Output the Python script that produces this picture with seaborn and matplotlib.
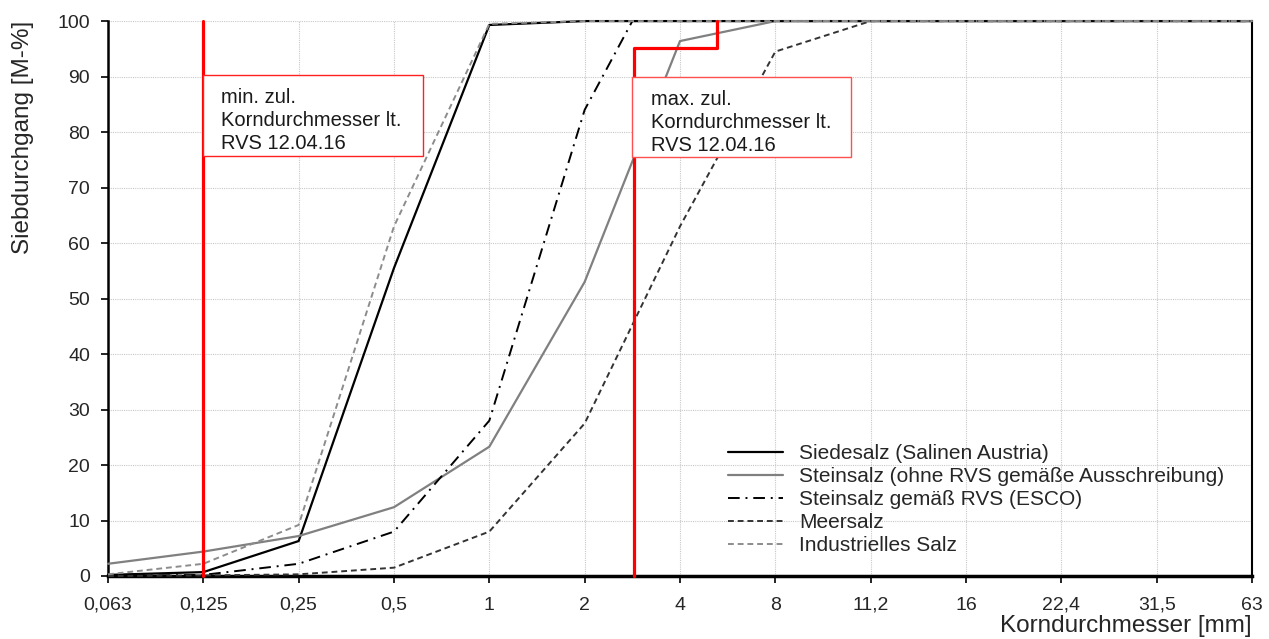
import numpy as np
import matplotlib
matplotlib.use("Agg")
import matplotlib.pyplot as plt
from matplotlib.patches import Rectangle
import seaborn as sns
import pandas as pd

# Sieve sizes (categorical, evenly spaced on the axis)
sizes = ["0,063", "0,125", "0,25", "0,5", "1", "2", "4", "8", "11,2", "16", "22,4", "31,5", "63"]

# Passing fractions [M-%] per sieve size
siedesalz = [0.2, 0.7, 6.3, 55.5, 99.3, 100, 100, 100, 100, 100, 100, 100, 100]
steinsalz_ohne = [2.2, 4.4, 7.2, 12.4, 23.3, 53.0, 96.4, 100, 100, 100, 100, 100, 100]
meersalz = [0.0, 0.1, 0.3, 1.5, 8.0, 27.5, 63.0, 94.5, 100, 100, 100, 100, 100]
industriell = [0.3, 2.2, 9.2, 63.0, 99.5, 100, 100, 100, 100, 100, 100, 100, 100]

# ESCO rock salt reaches 100 % between the 2 mm and 4 mm sieves
esco_pos = [0, 1, 2, 3, 4, 5, 5.5, 6, 7, 8, 9, 10, 11, 12]
esco = [0.0, 0.2, 2.2, 8.0, 28.0, 84.0, 100, 100, 100, 100, 100, 100, 100, 100]

# Permitted grain size limits (RVS 12.04.16)
min_limit_x = [1, 1]
min_limit_y = [0, 100]
max_limit_x = [5.52, 5.52, 6.39, 6.39]
max_limit_y = [0, 95.2, 95.2, 100]

labels = [
    "Siedesalz (Salinen Austria)",
    "Steinsalz (ohne RVS gemäße Ausschreibung)",
    "Steinsalz gemäß RVS (ESCO)",
    "Meersalz",
    "Industrielles Salz",
]

sns.set_theme(style="white")
plt.rcParams["font.family"] = ["Liberation Sans", "DejaVu Sans"]

fig = plt.figure(figsize=(12.69, 6.39), dpi=100)
ax = fig.add_axes([0.0851, 0.0986, 0.9015, 0.8684])

pos = np.arange(len(sizes))
series = [
    (pos, siedesalz, labels[0], dict(color="black", linestyle="-", linewidth=1.6)),
    (pos, steinsalz_ohne, labels[1], dict(color="#808080", linestyle="-", linewidth=1.6)),
    (np.array(esco_pos), esco, labels[2], dict(color="black", linestyle=(0, (6, 3, 1, 3)), linewidth=1.4)),
    (pos, meersalz, labels[3], dict(color="#333333", linestyle=(0, (3, 2)), linewidth=1.4)),
    (pos, industriell, labels[4], dict(color="#8c8c8c", linestyle=(0, (3, 2)), linewidth=1.4)),
]
for x, y, lab, kw in series:
    df = pd.DataFrame({"x": x, "y": y})
    sns.lineplot(data=df, x="x", y="y", ax=ax, label=lab, clip_on=False, zorder=3, **kw)

# Limit lines
ax.plot(min_limit_x, min_limit_y, color="#ff0000", linewidth=2.3, zorder=4, clip_on=False)
ax.plot(max_limit_x, max_limit_y, color="#ff0000", linewidth=2.3, zorder=4, clip_on=False)

# Annotation boxes
note_font = 14.5
ax.add_patch(Rectangle((1.0, 75.7), 2.30, 14.6, facecolor="white", edgecolor="#ff2020",
                       linewidth=1.0, zorder=5))
ax.text(1.19, 82.1, "min. zul.\nKorndurchmesser lt.\nRVS 12.04.16", fontsize=note_font,
        va="center", ha="left", linespacing=1.27, color="#1a1a1a", zorder=6)
ax.add_patch(Rectangle((5.50, 75.5), 2.29, 14.4, facecolor="white", edgecolor="#ff5050",
                       linewidth=1.0, zorder=5))
ax.text(5.70, 81.8, "max. zul.\nKorndurchmesser lt.\nRVS 12.04.16", fontsize=note_font,
        va="center", ha="left", linespacing=1.27, color="#1a1a1a", zorder=6)

ax.set_xlim(0, 12)
ax.set_ylim(0, 100)
ax.set_xticks(pos)
ax.set_xticklabels(sizes, fontsize=14)
ax.set_yticks(np.arange(0, 101, 10))
ax.set_yticklabels([str(v) for v in range(0, 101, 10)], fontsize=14)
ax.tick_params(axis="both", which="major", direction="out", length=5, width=1.2,
               color="black", bottom=True, left=True, pad=8)
ax.tick_params(axis="x", pad=10)

ax.grid(True, color="#c8c8c8", linestyle=(0, (1, 1)), linewidth=0.8)
ax.set_axisbelow(True)

for side in ["left", "right", "bottom"]:
    ax.spines[side].set_color("black")
ax.spines["left"].set_linewidth(1.8)
ax.spines["bottom"].set_linewidth(2.5)
ax.spines["right"].set_linewidth(1.5)
ax.spines["top"].set_visible(False)

ax.set_ylabel("Siebdurchgang [M-%]", fontsize=17.5, labelpad=17, loc="top")
ax.set_xlabel("")
fig.text(0.9866, 0.003, "Korndurchmesser [mm]", fontsize=17.5, ha="right", va="bottom")

leg = ax.legend(loc="upper left", bbox_to_anchor=(0.526, 0.272), frameon=False, fontsize=15,
                handlelength=2.6, handletextpad=0.8, labelspacing=0.2)

fig.savefig("out.png", dpi=100)
